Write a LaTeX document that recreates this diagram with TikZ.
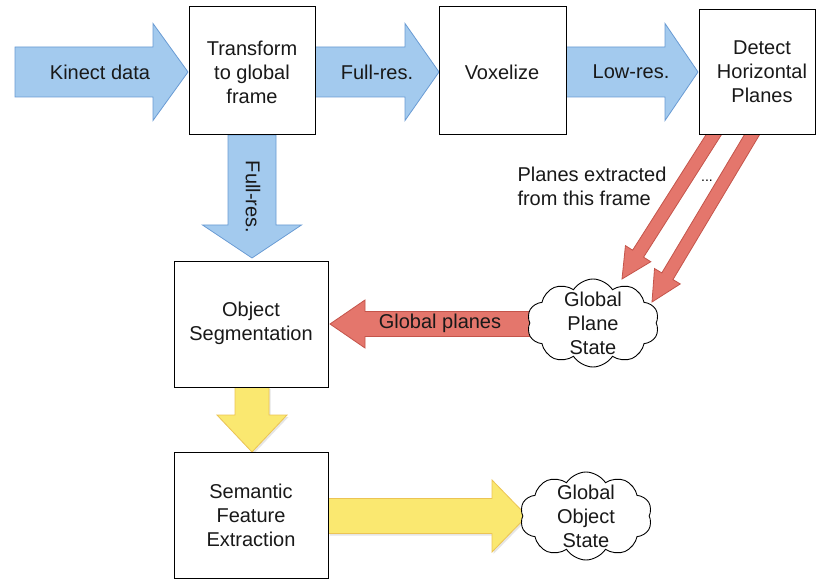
\documentclass[tikz,border=0pt]{standalone}
\usepackage{fontspec}
\setmainfont{Liberation Sans}
\usetikzlibrary{calc,shapes.symbols,shadows}
\definecolor{bfill}{RGB}{163,202,238}
\definecolor{bdraw}{RGB}{105,155,212}
\definecolor{rfill}{RGB}{228,118,108}
\definecolor{rdraw}{RGB}{196,84,74}
\definecolor{yfill}{RGB}{250,232,112}
\definecolor{ydraw}{RGB}{236,196,84}
\newcommand{\barrow}[6]{%
  \coordinate (H) at ($(#3)!#6!(#2)$);
  \filldraw[#1] ($(#2)!#4!90:(#3)$) -- ($(H)!#4!-90:(#2)$) -- ($(H)!#5!-90:(#2)$) -- (#3)
    -- ($(H)!#5!90:(#2)$) -- ($(H)!#4!90:(#2)$) -- ($(#2)!#4!-90:(#3)$) -- cycle;}
\begin{document}
\begin{tikzpicture}[x=1pt,y=-1pt,
  txt/.style={font=\fontsize{20}{24}\selectfont, align=center, inner sep=0pt, text=black!90},
  box/.style={draw=black, line width=1pt, fill=white},
  cloudbox/.style={cloud, draw=black, line width=0.9pt, fill=white, cloud puffs=10, cloud puff arc=115, aspect=1.5, minimum width=132pt, minimum height=88pt, inner sep=0pt},
  blue/.style={fill=bfill, draw=bdraw, line width=0.8pt, line join=miter},
  red/.style={fill=rfill, draw=rdraw, line width=0.8pt, line join=miter},
  yellow/.style={fill=yfill, draw=ydraw, line width=0.8pt, line join=miter,
    drop shadow={opacity=0.2, shadow xshift=1.5pt, shadow yshift=-2pt}}]
\useasboundingbox (0,0) rectangle (817,580);
\fill[white] (0,0) rectangle (817,580);
% blue arrows
\coordinate (k0) at (15,72); \coordinate (k1) at (188,72);
\barrow{blue}{k0}{k1}{25pt}{48.5pt}{35pt}
\coordinate (f0) at (315,72); \coordinate (f1) at (439,72);
\barrow{blue}{f0}{f1}{25pt}{48.5pt}{34pt}
\coordinate (l0) at (566,72); \coordinate (l1) at (698,72);
\barrow{blue}{l0}{l1}{25pt}{48.5pt}{33pt}
\coordinate (d0) at (252,135); \coordinate (d1) at (252,258);
\barrow{blue}{d0}{d1}{24pt}{49.5pt}{33pt}
% red arrows
\coordinate (r10) at (718,128); \coordinate (r11) at (622,279);
\barrow{red}{r10}{r11}{6.5pt}{15pt}{30pt}
\coordinate (r20) at (756,128); \coordinate (r21) at (652,302);
\barrow{red}{r20}{r21}{6.5pt}{15pt}{30pt}
% yellow arrows
\coordinate (y0) at (252,387); \coordinate (y1) at (252,452);
\barrow{yellow}{y0}{y1}{17pt}{35pt}{37pt}
\coordinate (z0) at (328,516); \coordinate (z1) at (527,516);
\barrow{yellow}{z0}{z1}{17.5pt}{36pt}{35pt}
% boxes
\draw[box] (189,7) rectangle (315,135);
\draw[box] (439,7) rectangle (566,135);
\draw[box] (699,10) rectangle (815,135);
\draw[box] (174,262) rectangle (328,387);
\draw[box] (174,452) rectangle (328,578);
\node[txt] (tr) at (252,72) {Transform\\to global\\frame};
\node[txt] (vx) at (502,72) {Voxelize};
\node[txt] (dh) at (762,72) {Detect\\Horizontal\\Planes};
\node[txt] (os) at (251,323) {Object\\Segmentation};
\node[txt] (sf) at (251,515) {Semantic\\Feature\\Extraction};
% global planes arrow
\coordinate (g0) at (545,324); \coordinate (g1) at (330,324);
\barrow{red}{g0}{g1}{12.5pt}{24pt}{35pt}
% clouds
\node[cloudbox] (gps) at (593,323) {};
\node[txt] at (gps.center) {Global\\Plane\\State};
\node[cloudbox] (gos) at (586,516) {};
\node[txt] at (gos.center) {Global\\Object\\State};
% labels
\node[txt] (kd) at (100,72) {Kinect data};
\node[txt] (fr) at (377,72) {Full-res.};
\node[txt] (lr) at (631,72) {Low-res.};
\node[txt, rotate=-90] (fr2) at (253,197) {Full-res.};
\node[txt] (gp) at (440,323) {Global planes};
\node[txt, align=left] (pe) at (592,186) {Planes extracted\\from this frame};
\node[font=\fontsize{14}{14}\selectfont, inner sep=0pt] (dots) at (707,181) {...};
\end{tikzpicture}
\end{document}
